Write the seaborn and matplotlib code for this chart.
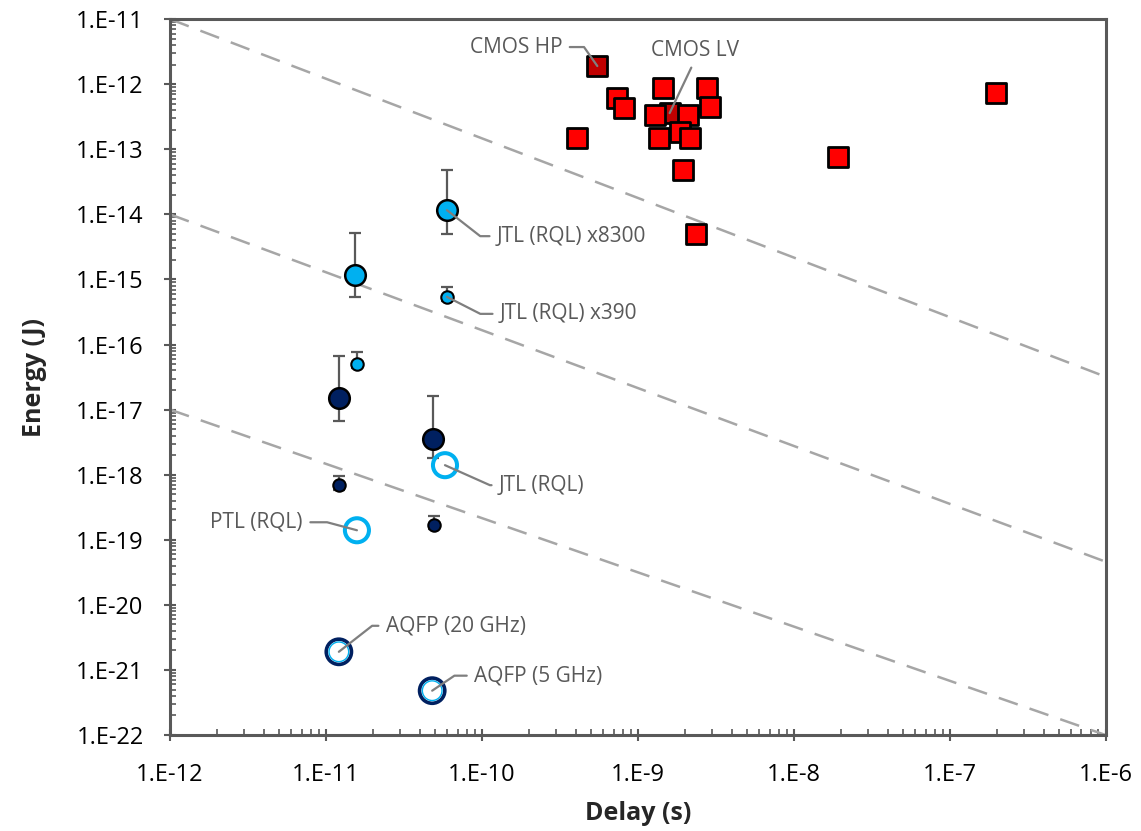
import numpy as np
import seaborn as sns
import matplotlib.pyplot as plt
from matplotlib.ticker import LogLocator, FuncFormatter, NullFormatter, FixedLocator

sns.set_style("white")
plt.rcParams['font.family'] = ['Open Sans', 'DejaVu Sans']

# ------------------------------------------------------------
# DATA
# ------------------------------------------------------------
cmos_delay = [4.06e-10, 7.4e-10, 8.1e-10, 1.45e-9, 1.29e-9, 1.36e-9, 2.77e-9, 2.9e-9,
              2.1e-9, 1.86e-9, 2.15e-9, 1.94e-9, 2.35e-9, 1.91e-8, 1.97e-7]
cmos_energy = [1.48e-13, 6.1e-13, 4.3e-13, 8.7e-13, 3.35e-13, 1.48e-13, 8.7e-13, 4.45e-13,
               3.35e-13, 1.84e-13, 1.48e-13, 4.8e-14, 5.0e-15, 7.6e-14, 7.3e-13]
cmos_hp_delay, cmos_hp_energy = [5.5e-10], [1.9e-12]
cmos_lv_delay, cmos_lv_energy = [1.6e-9], [3.6e-13]

# light blue, large markers (JTL RQL x8300 and its neighbour)
lb_big_delay = [5.97e-11, 1.53e-11]
lb_big_energy = [1.16e-14, 1.17e-15]
lb_big_hi = [4.8e-14, 5.2e-15]
lb_big_lo = [5.0e-15, 5.4e-16]

# light blue, small markers (JTL RQL x390 and its neighbour)
lb_small_delay = [5.97e-11, 1.58e-11]
lb_small_energy = [5.4e-16, 5.0e-17]
lb_small_hi = [7.6e-16, 7.7e-17]
lb_small_lo = [4.6e-16, 4.3e-17]

# navy, large markers
nv_big_delay = [1.21e-11, 4.85e-11]
nv_big_energy = [1.5e-17, 3.55e-18]
nv_big_hi = [6.6e-17, 1.6e-17]
nv_big_lo = [6.7e-18, 1.8e-18]

# navy, small markers
nv_small_delay = [1.21e-11, 4.9e-11]
nv_small_energy = [6.9e-19, 1.7e-19]
nv_small_hi = [9.5e-19, 2.3e-19]
nv_small_lo = [5.9e-19, 1.45e-19]

# open circles: JTL (RQL), PTL (RQL)
rql_delay = [5.8e-11, 1.58e-11]
rql_energy = [1.4e-18, 1.4e-19]

# AQFP 20 GHz, 5 GHz
aqfp_delay = [1.21e-11, 4.8e-11]
aqfp_energy = [1.9e-21, 4.8e-22]

# constant energy-delay guide lines
guide_delay = [1e-12, 1e-6]
guide_energy = [[1e-11, 3.2e-17], [1e-14, 4.6e-20], [1e-17, 1e-22]]

# axis decades
x_decades = list(range(-12, -5))
y_decades = list(range(-22, -10))

RED = "#FF0000"
DARK_RED = "#C00000"
LIGHT_BLUE = "#00B0F0"
NAVY = "#002060"
AXIS_GRAY = "#595959"

# ------------------------------------------------------------
# PLOT
# ------------------------------------------------------------
fig, ax = plt.subplots(figsize=(11.41, 8.31), dpi=100)
fig.subplots_adjust(left=0.149, right=0.969, bottom=0.1155, top=0.977)
ax.set_xscale("log")
ax.set_yscale("log")

for ge in guide_energy:
    ax.plot(guide_delay, ge, color="#A6A6A6", lw=1.8, dashes=(8, 5), zorder=1)

# error bars
def err(ax, x, y, hi, lo):
    y = np.array(y)
    yerr = [y - np.array(lo), np.array(hi) - y]
    ax.errorbar(x, y, yerr=yerr, fmt="none", ecolor=AXIS_GRAY, elinewidth=1.6,
                capsize=4, capthick=1.6, zorder=2)

err(ax, lb_big_delay, lb_big_energy, lb_big_hi, lb_big_lo)
err(ax, lb_small_delay, lb_small_energy, lb_small_hi, lb_small_lo)
err(ax, nv_big_delay, nv_big_energy, nv_big_hi, nv_big_lo)
err(ax, nv_small_delay, nv_small_energy, nv_small_hi, nv_small_lo)

# CMOS
sns.scatterplot(x=cmos_lv_delay, y=cmos_lv_energy, marker="s", s=220, color=DARK_RED,
                edgecolor="black", linewidth=2, ax=ax, zorder=3)
sns.scatterplot(x=cmos_delay, y=cmos_energy, marker="s", s=220, color=RED,
                edgecolor="black", linewidth=2, ax=ax, zorder=3)
sns.scatterplot(x=cmos_hp_delay, y=cmos_hp_energy, marker="s", s=220, color=DARK_RED,
                edgecolor="black", linewidth=2, ax=ax, zorder=3)

# superconducting
sns.scatterplot(x=lb_big_delay, y=lb_big_energy, s=220, color=LIGHT_BLUE,
                edgecolor="black", linewidth=1.8, ax=ax, zorder=3)
sns.scatterplot(x=lb_small_delay, y=lb_small_energy, s=80, color=LIGHT_BLUE,
                edgecolor="black", linewidth=1.5, ax=ax, zorder=3)
sns.scatterplot(x=nv_big_delay, y=nv_big_energy, s=220, color=NAVY,
                edgecolor="black", linewidth=1.8, ax=ax, zorder=3)
sns.scatterplot(x=nv_small_delay, y=nv_small_energy, s=80, color=NAVY,
                edgecolor="black", linewidth=1.5, ax=ax, zorder=3)
sns.scatterplot(x=rql_delay, y=rql_energy, s=300, facecolor="none",
                edgecolor=LIGHT_BLUE, linewidth=2.9, ax=ax, zorder=3)
sns.scatterplot(x=aqfp_delay, y=aqfp_energy, s=330, facecolor="none",
                edgecolor=NAVY, linewidth=2.6, ax=ax, zorder=3)
sns.scatterplot(x=aqfp_delay, y=aqfp_energy, s=200, facecolor="none",
                edgecolor=LIGHT_BLUE, linewidth=1.0, ax=ax, zorder=4)

# labels with elbow leaders
def leader(text, xy, offset, angle, ha="left"):
    relpos = (0, 0.5) if ha == "left" else (1, 0.5)
    ax.annotate(text, xy=xy, xytext=offset, textcoords="offset pixels",
                ha=ha, va="center", fontsize=15, color=AXIS_GRAY,
                arrowprops=dict(arrowstyle="-", color="#7F7F7F", lw=1.6,
                                shrinkA=3, shrinkB=0, relpos=relpos,
                                connectionstyle=f"angle,angleA=0,angleB={angle},rad=0"),
                zorder=5)

leader("JTL (RQL) x8300", (lb_big_delay[0], lb_big_energy[0]), (50, -26), -38)
leader("JTL (RQL) x390", (lb_small_delay[0], lb_small_energy[0]), (53, -17), -27)
leader("JTL (RQL)", (rql_delay[0], rql_energy[0]), (54, -20), -24)
leader("PTL (RQL)", (rql_delay[1], rql_energy[1]), (-54, 8), -15, ha="right")
leader("AQFP (20 GHz)", (aqfp_delay[0], aqfp_energy[0]), (47, 26), 38)
leader("AQFP (5 GHz)", (aqfp_delay[1], aqfp_energy[1]), (42, 15), 34)
leader("CMOS HP", (cmos_hp_delay[0], cmos_hp_energy[0]), (-35, 19), -55, ha="right")
ax.annotate("CMOS LV", xy=(cmos_lv_delay[0], cmos_lv_energy[0]), xytext=(25, 63),
            textcoords="offset pixels", ha="center", va="center", fontsize=15,
            color=AXIS_GRAY,
            arrowprops=dict(arrowstyle="-", color="#7F7F7F", lw=1.6, shrinkA=3,
                            shrinkB=0, relpos=(0.5, 0)), zorder=5)

# axes
ax.set_xlim(1e-12, 1e-6)
ax.set_ylim(1e-22, 1e-11)
fmt = FuncFormatter(lambda v, p: f"1.E{int(round(np.log10(v)))}")
ax.xaxis.set_major_locator(FixedLocator([10.0 ** d for d in x_decades]))
ax.yaxis.set_major_locator(FixedLocator([10.0 ** d for d in y_decades]))
ax.xaxis.set_minor_locator(LogLocator(base=10, subs=np.arange(2, 10), numticks=20))
ax.yaxis.set_minor_locator(LogLocator(base=10, subs=np.arange(2, 10), numticks=20))
ax.xaxis.set_major_formatter(fmt)
ax.yaxis.set_major_formatter(fmt)
ax.xaxis.set_minor_formatter(NullFormatter())
ax.yaxis.set_minor_formatter(NullFormatter())
ax.tick_params(which="major", direction="inout", length=8, width=1.5, color=AXIS_GRAY,
               labelsize=17, labelcolor="black", bottom=True, left=True)
ax.tick_params(axis="x", which="major", pad=16)
ax.tick_params(axis="y", which="major", pad=15)
ax.tick_params(which="minor", direction="in", length=4, width=1.2, color=AXIS_GRAY,
               bottom=True, left=True)
for sp in ax.spines.values():
    sp.set_color(AXIS_GRAY)
    sp.set_linewidth(2.2)

ax.set_xlabel("Delay (s)", fontsize=18, fontweight="bold")
ax.set_ylabel("Energy (J)", fontsize=18, fontweight="bold")
ax.xaxis.set_label_coords(0.5, -0.092)
ax.yaxis.set_label_coords(-0.132, 0.5)

plt.savefig("out.png", dpi=100)
